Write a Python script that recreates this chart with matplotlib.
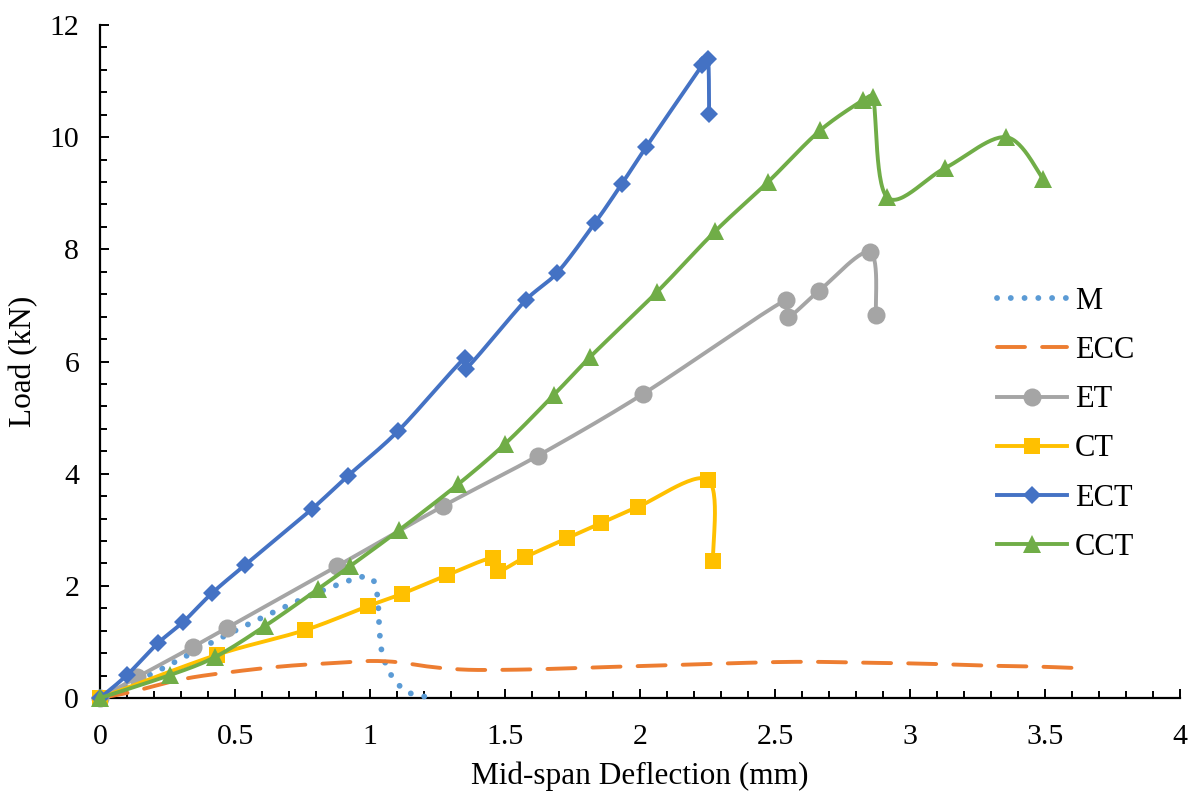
import numpy as np
import matplotlib
matplotlib.use("Agg")
import matplotlib.pyplot as plt
from matplotlib.lines import Line2D
from matplotlib.ticker import MultipleLocator

# ---------------- data ----------------
M_x = [0, 0.2, 0.41, 0.59, 0.775, 0.914, 0.97, 1.01, 1.028, 1.035, 1.045, 1.07, 1.10, 1.14, 1.23]
M_y = [0, 0.45, 0.98, 1.41, 1.82, 2.08, 2.16, 2.12, 1.80, 1.20, 0.80, 0.48, 0.27, 0.10, 0.0]

ECC_x = [0, 0.11, 0.30, 0.48, 0.69, 0.89, 1.00, 1.10, 1.20, 1.30, 1.40, 1.60, 1.80, 2.00, 2.27, 2.50, 2.65, 2.81, 2.97, 3.14, 3.30, 3.47, 3.64]
ECC_y = [0, 0.10, 0.33, 0.46, 0.57, 0.63, 0.66, 0.64, 0.57, 0.52, 0.50, 0.51, 0.54, 0.57, 0.61, 0.64, 0.645, 0.63, 0.62, 0.60, 0.575, 0.56, 0.53]

ET_x = [0, 0.137, 0.344, 0.47, 0.878, 1.27, 1.622, 2.011, 2.541, 2.548, 2.663, 2.852, 2.874]
ET_y = [0, 0.37, 0.91, 1.25, 2.35, 3.42, 4.32, 5.42, 7.10, 6.79, 7.26, 7.95, 6.83]

CT_x = [0, 0.433, 0.759, 0.993, 1.117, 1.285, 1.456, 1.474, 1.574, 1.73, 1.856, 1.993, 2.252, 2.27]
CT_y = [0, 0.77, 1.21, 1.64, 1.855, 2.19, 2.50, 2.26, 2.51, 2.85, 3.12, 3.41, 3.89, 2.44]

ECT_x = [0, 0.10, 0.215, 0.307, 0.415, 0.537, 0.785, 0.918, 1.104, 1.352, 1.356, 1.578, 1.693, 1.833, 1.933, 2.022, 2.23, 2.252, 2.256]
ECT_y = [0, 0.41, 0.98, 1.35, 1.87, 2.37, 3.37, 3.96, 4.76, 6.07, 5.87, 7.10, 7.58, 8.47, 9.17, 9.82, 11.28, 11.40, 10.42]

CCT_x = [0, 0.26, 0.426, 0.61, 0.807, 0.926, 1.107, 1.326, 1.50, 1.68, 1.815, 2.063, 2.278, 2.474, 2.667, 2.826, 2.863, 2.915, 3.13, 3.356, 3.493]
CCT_y = [0, 0.41, 0.73, 1.28, 1.94, 2.35, 2.99, 3.81, 4.53, 5.40, 6.08, 7.24, 8.32, 9.20, 10.12, 10.66, 10.72, 8.93, 9.45, 10.00, 9.26]

x_ticks = [0, 0.5, 1, 1.5, 2, 2.5, 3, 3.5, 4]
x_tick_labels = ["0", "0.5", "1", "1.5", "2", "2.5", "3", "3.5", "4"]
y_ticks = [0, 2, 4, 6, 8, 10, 12]
y_tick_labels = ["0", "2", "4", "6", "8", "10", "12"]

# ---------------- style ----------------
plt.rcParams['font.family'] = ['Liberation Serif', 'DejaVu Serif']

W, H = 1194, 794
fig = plt.figure(figsize=(W / 100, H / 100), dpi=100)
L, R, B, T = 100, 1180, 698, 25
ax = fig.add_axes([L / W, 1 - B / H, (R - L) / W, (B - T) / H])
ax.set_xlim(0, 4)
ax.set_ylim(0, 12)

sx = (R - L) / 4.0
sy = (B - T) / 12.0


def smooth(xs, ys, n=30):
    """Excel-like smoothed line (Bezier, 1/6 tension) in pixel space, with tangent clamping."""
    P = np.column_stack([np.asarray(xs, float) * sx, np.asarray(ys, float) * sy])
    out = [P[0]]
    t = np.linspace(0, 1, n)[1:]
    for i in range(len(P) - 1):
        p0 = P[i - 1] if i > 0 else P[i]
        p1 = P[i]
        p2 = P[i + 1]
        p3 = P[i + 2] if i + 2 < len(P) else P[i + 1]
        seg = np.linalg.norm(p2 - p1)
        d1 = (p2 - p0) / 6.0
        d2 = (p3 - p1) / 6.0
        lim = 0.35 * seg
        for d in (d1, d2):
            nd = np.linalg.norm(d)
            if nd > lim and nd > 0:
                d *= lim / nd
        c1 = p1 + d1
        c2 = p2 - d2
        for tt in t:
            b = ((1 - tt) ** 3) * p1 + 3 * ((1 - tt) ** 2) * tt * c1 + 3 * (1 - tt) * tt ** 2 * c2 + tt ** 3 * p2
            out.append(b)
    out = np.array(out)
    return out[:, 0] / sx, out[:, 1] / sy


c_M = '#5B9BD5'
c_ECC = '#ED7D31'
c_ET = '#A5A5A5'
c_CT = '#FFC000'
c_ECT = '#4472C4'
c_CCT = '#70AD47'

lw = 2.8
lw_M = 4.2
dot_style = (0, (0.01, 2.35))
dash_style = (0, (7.2, 4.4))

# M dotted
xs, ys = smooth(M_x, M_y)
ax.plot(xs, ys, color=c_M, lw=lw_M, linestyle=dot_style, dash_capstyle='round', zorder=3, clip_on=False)
# ECC dashed
xs, ys = smooth(ECC_x, ECC_y)
ax.plot(xs, ys, color=c_ECC, lw=lw, linestyle=dash_style, dash_capstyle='round', zorder=3, clip_on=False)

series = [
    (ET_x, ET_y, c_ET, 'o', 13),
    (CT_x, CT_y, c_CT, 's', 12),
    (ECT_x, ECT_y, c_ECT, 'D', 9.5),
    (CCT_x, CCT_y, c_CCT, '^', 13),
]
z = 4
for sxs, sys_, col, mk, ms in series:
    xs, ys = smooth(sxs, sys_)
    ax.plot(xs, ys, color=col, lw=lw, zorder=z, solid_capstyle='round', clip_on=False)
    ax.plot(sxs, sys_, linestyle='none', marker=mk, markersize=ms, color=col,
            markeredgewidth=0, zorder=z + 0.5, clip_on=False)
    z += 1

# axes styling
for s in ['top', 'right']:
    ax.spines[s].set_visible(False)
for s in ['left', 'bottom']:
    ax.spines[s].set_linewidth(1.6)
    ax.spines[s].set_color('black')

ax.set_xticks(x_ticks)
ax.set_xticklabels(x_tick_labels)
ax.set_yticks(y_ticks)
ax.set_yticklabels(y_tick_labels)
ax.xaxis.set_minor_locator(MultipleLocator(0.1))
ax.yaxis.set_minor_locator(MultipleLocator(0.4))
ax.tick_params(axis='both', which='major', direction='in', length=6.5, width=1.4, labelsize=21.5, colors='black')
ax.tick_params(axis='both', which='minor', direction='in', length=5, width=1.4)
ax.tick_params(axis='x', which='major', pad=19)
ax.tick_params(axis='y', which='major', pad=15)

ax.set_xlabel('Mid-span Deflection (mm)', fontsize=22.5, labelpad=8)
ax.set_ylabel('Load (kN)', fontsize=22.5, labelpad=8)

handles = [
    Line2D([], [], color=c_M, lw=lw_M, linestyle=dot_style, dash_capstyle='round'),
    Line2D([], [], color=c_ECC, lw=lw, linestyle=dash_style, dash_capstyle='round'),
    Line2D([], [], color=c_ET, lw=lw, marker='o', markersize=13, markeredgewidth=0),
    Line2D([], [], color=c_CT, lw=lw, marker='s', markersize=12, markeredgewidth=0),
    Line2D([], [], color=c_ECT, lw=lw, marker='D', markersize=9.5, markeredgewidth=0),
    Line2D([], [], color=c_CCT, lw=lw, marker='^', markersize=13, markeredgewidth=0),
]
labels = ['M', 'ECC', 'ET', 'CT', 'ECT', 'CCT']
fig.legend(handles, labels, loc='upper left', bbox_to_anchor=(997 / W, 1 - 287 / H),
           frameon=False, fontsize=22, handlelength=2.3, handletextpad=0.25,
           labelspacing=0.66, borderpad=0, borderaxespad=0)

fig.savefig('out.png', dpi=100)
